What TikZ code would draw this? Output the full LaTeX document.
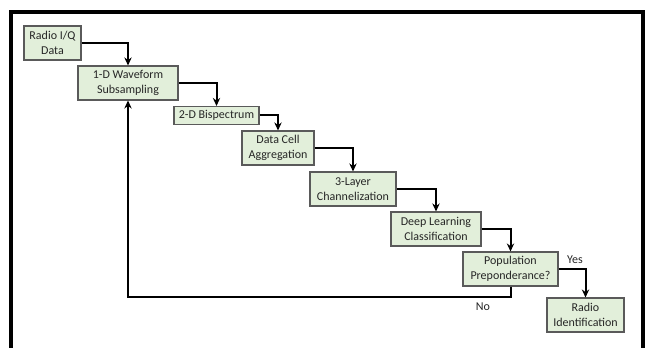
\documentclass[tikz,border=0pt]{standalone}
\usepackage{fontspec}
\setmainfont{Carlito}
\usetikzlibrary{arrows.meta}
\definecolor{boxfill}{RGB}{226,239,218}
\definecolor{boxline}{RGB}{90,90,90}
\begin{document}
\begin{tikzpicture}[x=0.75pt,y=-0.75pt,
  stepbox/.style={draw=boxline,line width=0.8pt,fill=boxfill,inner sep=0pt,
    minimum height=25.5pt,align=center,font=\fontsize{9}{11.25}\selectfont,text=black!85},
  flow/.style={draw=black,line width=1.5pt,-{Stealth[length=6pt,width=5.5pt]}},
  lbl/.style={font=\fontsize{9}{11}\selectfont,text=black!85,inner sep=0pt}]
\useasboundingbox (0,0) rectangle (647,348);
\draw[line width=3pt] (10.5,350) -- (10.5,12.5) -- (643,12.5) -- (643,350);
\node[stepbox,minimum width=42.75pt] (rq) at (52.5,43) {Radio I/Q\\Data};
\node[stepbox,minimum width=75pt] (ws) at (128,83) {1-D Waveform\\Subsampling};
\node[stepbox,minimum width=63.75pt,minimum height=13.5pt] (bs) at (216.5,115.5) {2-D Bispectrum};
\node[stepbox,minimum width=54pt] (dc) at (278,148) {Data Cell\\Aggregation};
\node[stepbox,minimum width=64.5pt] (ch) at (353,189) {3-Layer\\Channelization};
\node[stepbox,minimum width=67.5pt] (dl) at (436,229) {Deep Learning\\Classification};
\node[stepbox,minimum width=71.25pt] (pp) at (510.5,269) {Population\\Preponderance?};
\node[stepbox,minimum width=57.75pt] (ri) at (585.5,315) {Radio\\Identification};
\draw[flow] (rq.east) -| (ws.north);
\draw[flow] (ws.east) -| (bs.north);
\draw[flow] (bs.east) -| (dc.north);
\draw[flow] (dc.east) -| (ch.north);
\draw[flow] (ch.east) -| (dl.north);
\draw[flow] (dl.east) -| (pp.north);
\draw[flow] (pp.east) -| (ri.north);
\coordinate (nob) at (510.5,297);
\draw[flow] (pp.south) -- (nob) -| (ws.south);
\node[lbl] (yes) at (575,260) {Yes};
\node[lbl] (no) at (483,307) {No};
\end{tikzpicture}
\end{document}
